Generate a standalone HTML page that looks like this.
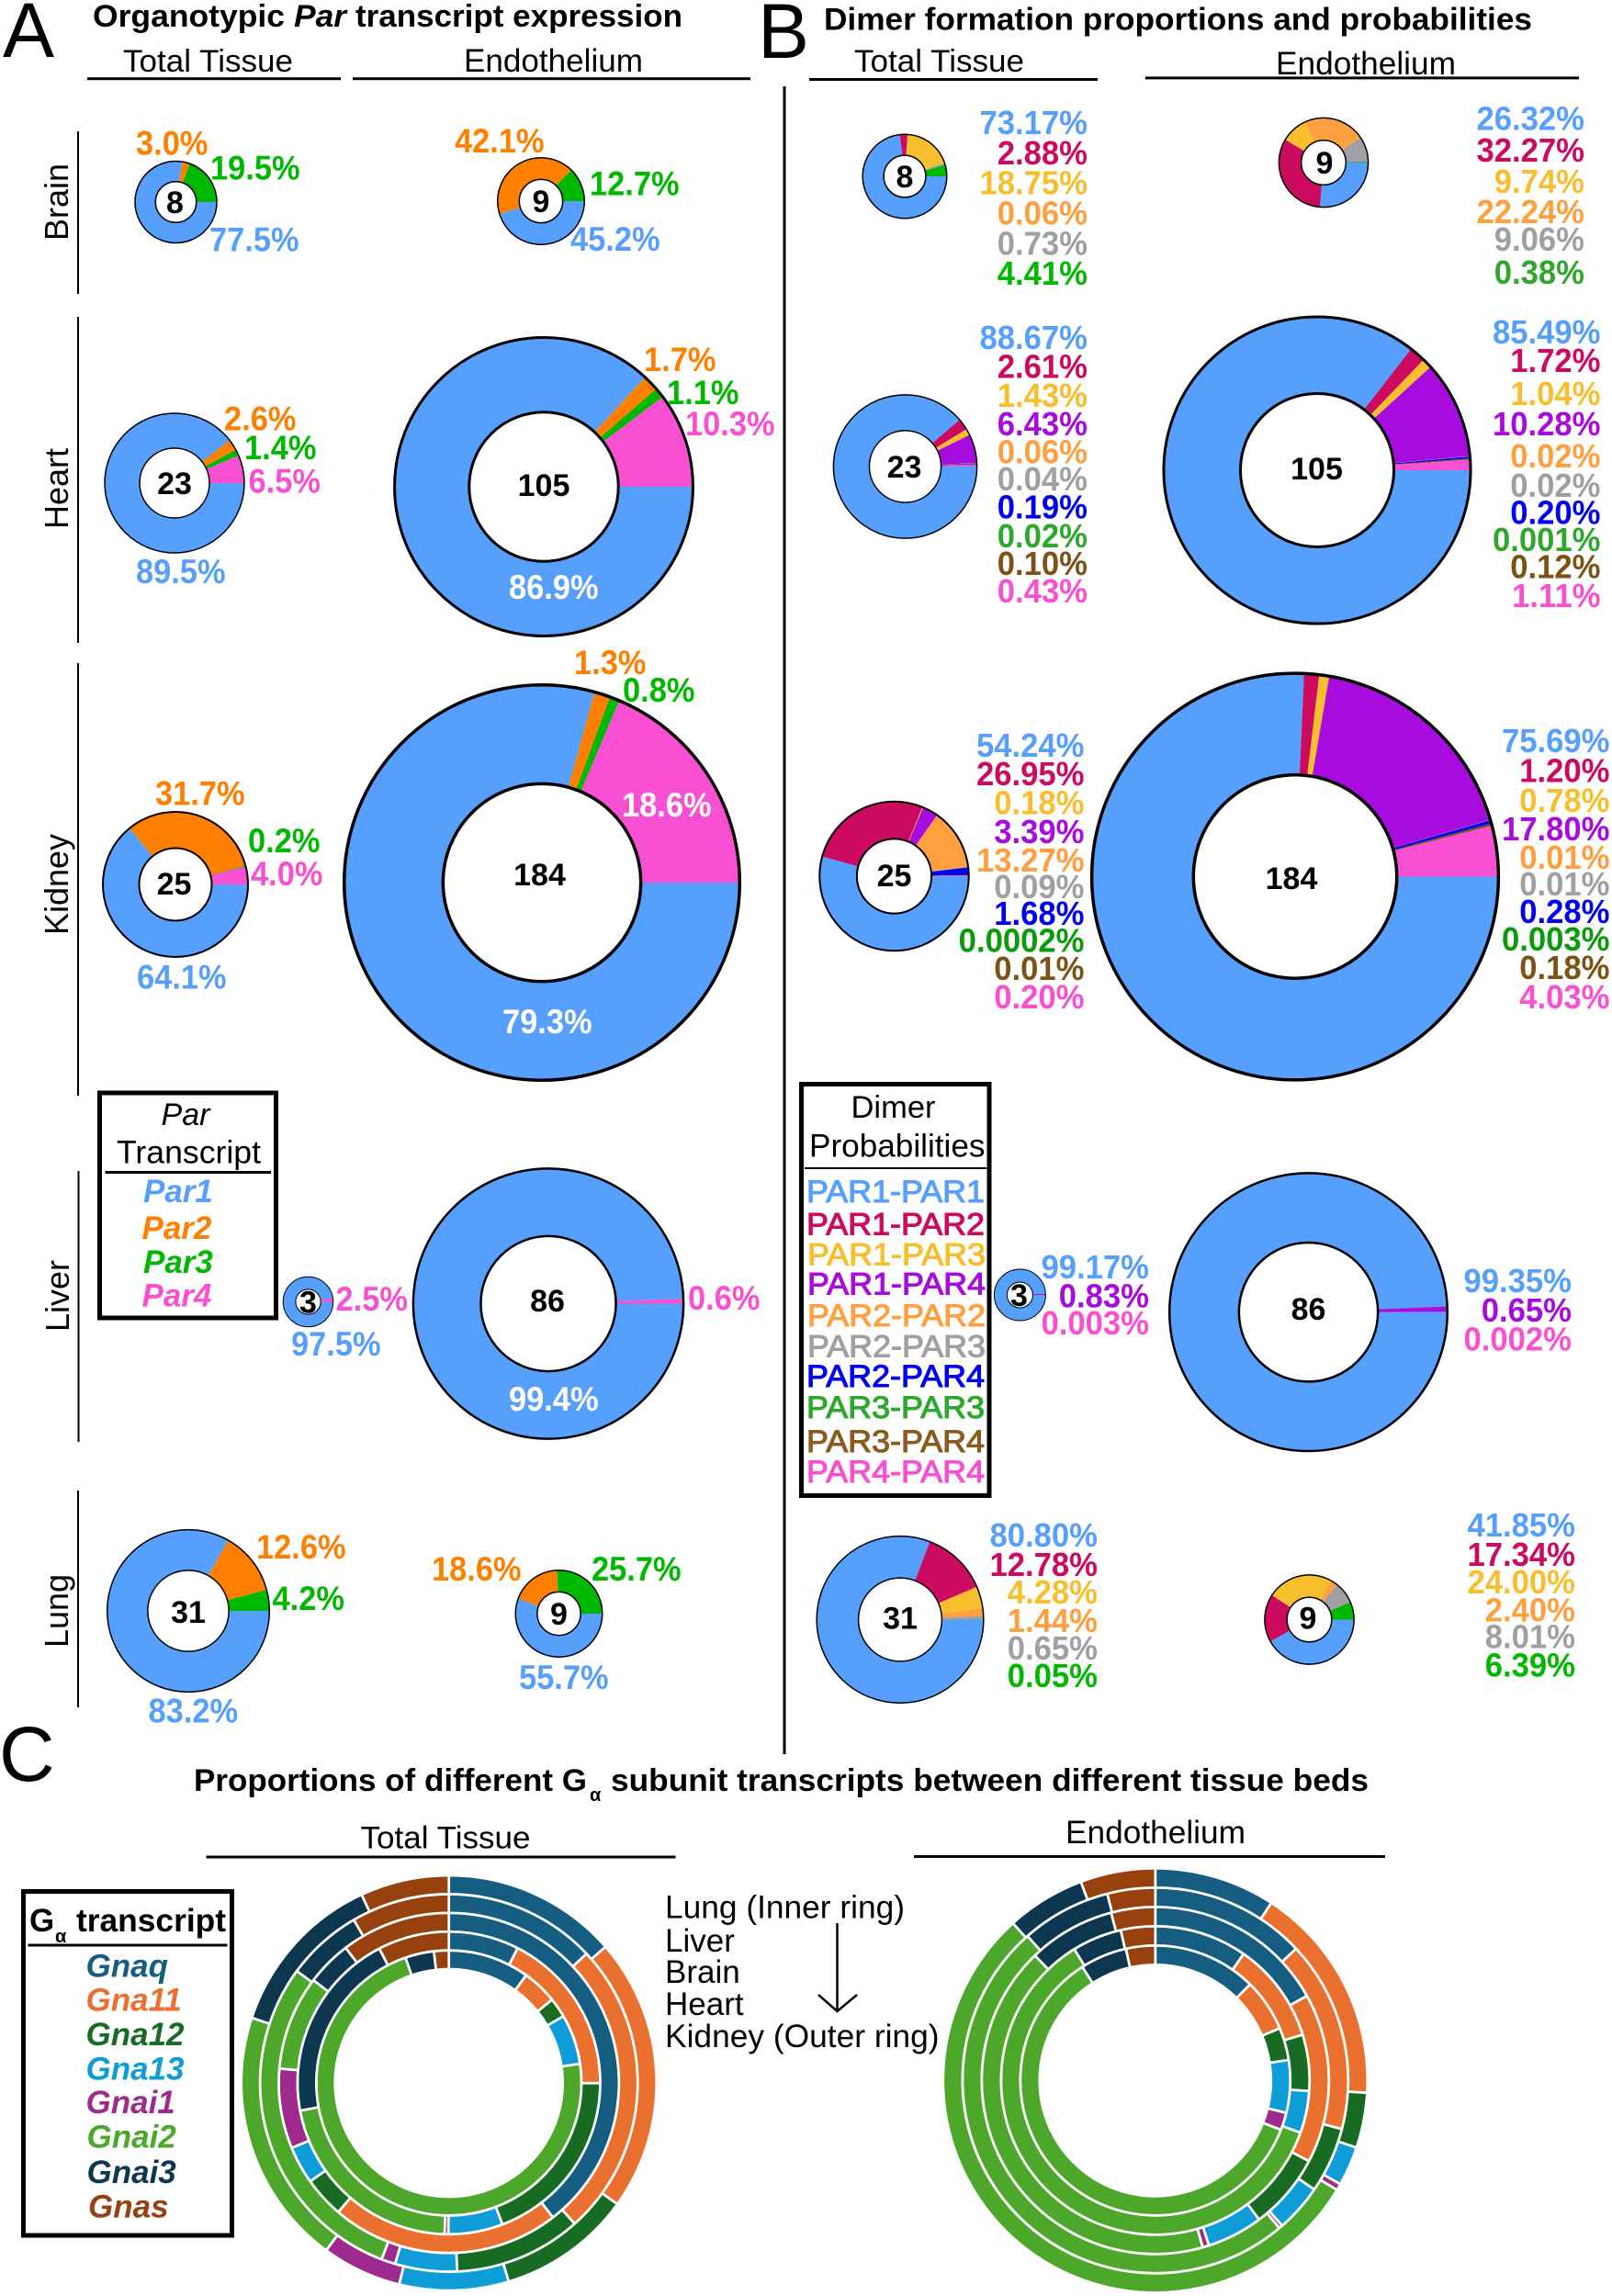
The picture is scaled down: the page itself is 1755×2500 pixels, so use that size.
<!DOCTYPE html>
<html lang="en">
<head>
<meta charset="utf-8">
<title>Par transcript expression, dimer probabilities and G-alpha subunits</title>
<style>
html,body{margin:0;padding:0;background:#fff;}
svg{display:block;}
text{font-family:"Liberation Sans",Arial,sans-serif;}
.bold{font-weight:700;}
.ital{font-style:italic;}
</style>
</head>
<body>
<svg id="figure" xmlns="http://www.w3.org/2000/svg" width="1755" height="2500" viewBox="0 0 1755 2500">
  <rect x="0" y="0" width="1755" height="2500" fill="#fff"/>

  <!-- Panel letters -->
  <text x="3" y="62" font-size="84">A</text>
  <text x="825" y="63" font-size="84">B</text>
  <text x="-1" y="1939" font-size="84">C</text>

  <!-- Panel A headers -->
  <text class="bold" x="101" y="29" font-size="34" textLength="209" lengthAdjust="spacingAndGlyphs">Organotypic</text>
  <text class="bold ital" x="320" y="29" font-size="34" textLength="57" lengthAdjust="spacingAndGlyphs">Par</text>
  <text class="bold" x="387" y="29" font-size="34" textLength="356" lengthAdjust="spacingAndGlyphs">transcript expression</text>
  <text x="134" y="78" font-size="34" textLength="185" lengthAdjust="spacingAndGlyphs">Total Tissue</text>
  <text x="505" y="78" font-size="34.8" textLength="195" lengthAdjust="spacingAndGlyphs">Endothelium</text>
  <rect x="95" y="84.2" width="276" height="3" fill="#000"/>
  <rect x="384" y="84.2" width="433" height="3" fill="#000"/>

  <!-- Panel B headers -->
  <text class="bold" x="897" y="32.5" font-size="34" textLength="771" lengthAdjust="spacingAndGlyphs">Dimer formation proportions and probabilities</text>
  <text x="930" y="78" font-size="34" textLength="185" lengthAdjust="spacingAndGlyphs">Total Tissue</text>
  <text x="1389" y="81" font-size="34.8" textLength="196" lengthAdjust="spacingAndGlyphs">Endothelium</text>
  <rect x="881" y="85" width="314" height="3" fill="#000"/>
  <rect x="1247" y="83.4" width="472" height="3" fill="#000"/>
  <rect x="852.5" y="94" width="3" height="1816" fill="#000"/>

  <!-- Row labels -->
  <g font-size="36" text-anchor="middle">
    <text transform="translate(74,220) rotate(-90)">Brain</text>
    <text transform="translate(74,532) rotate(-90)">Heart</text>
    <text transform="translate(74,963) rotate(-90)">Kidney</text>
    <text transform="translate(75,1411) rotate(-90)">Liver</text>
    <text transform="translate(74,1754) rotate(-90)">Lung</text>
  </g>
  <rect x="84" y="143" width="2" height="177" fill="#000"/>
  <rect x="84" y="345" width="2" height="355" fill="#000"/>
  <rect x="84" y="722" width="2" height="471" fill="#000"/>
  <rect x="84.5" y="1275" width="2" height="295" fill="#000"/>
  <rect x="84" y="1623" width="2" height="236" fill="#000"/>

  <!-- Legend A -->
  <g>
    <rect x="108.5" y="1190" width="192" height="245" fill="#fff" stroke="#000" stroke-width="5"/>
    <text class="ital" x="202" y="1225" font-size="34" text-anchor="middle">Par</text>
    <text x="127" y="1266.4" font-size="35" textLength="157" lengthAdjust="spacingAndGlyphs">Transcript</text>
    <rect x="114.5" y="1275" width="180.5" height="3" fill="#000"/>
    <g class="bold ital" font-size="35">
      <text x="156" y="1309" fill="#569FFD">Par1</text>
      <text x="154.5" y="1349" fill="#FF8000">Par2</text>
      <text x="156" y="1386" fill="#00B800">Par3</text>
      <text x="154.5" y="1422.5" fill="#F94FD3">Par4</text>
    </g>
  </g>

  <!-- Legend B -->
  <g>
    <rect x="872.5" y="1180.5" width="204.5" height="448" fill="#fff" stroke="#000" stroke-width="5"/>
    <text x="972.5" y="1217" font-size="34.5" text-anchor="middle">Dimer</text>
    <text x="881" y="1259.5" font-size="35" textLength="191.5" lengthAdjust="spacingAndGlyphs">Probabilities</text>
    <rect x="876" y="1271" width="198" height="2" fill="#000"/>
    <g font-size="34.4" stroke-width="1.1">
      <text x="878" y="1309" textLength="194" lengthAdjust="spacingAndGlyphs" fill="#569FFD" stroke="#569FFD">PAR1-PAR1</text>
      <text x="878" y="1344.5" textLength="194" lengthAdjust="spacingAndGlyphs" fill="#CC0A60" stroke="#CC0A60">PAR1-PAR2</text>
      <text x="879" y="1377.5" textLength="194" lengthAdjust="spacingAndGlyphs" fill="#F7BE2E" stroke="#F7BE2E">PAR1-PAR3</text>
      <text x="879" y="1409.7" textLength="194" lengthAdjust="spacingAndGlyphs" fill="#A80BDD" stroke="#A80BDD">PAR1-PAR4</text>
      <text x="879" y="1444" textLength="194" lengthAdjust="spacingAndGlyphs" fill="#FF9F3F" stroke="#FF9F3F">PAR2-PAR2</text>
      <text x="879" y="1477.6" textLength="194" lengthAdjust="spacingAndGlyphs" fill="#A0A0A4" stroke="#A0A0A4">PAR2-PAR3</text>
      <text x="878" y="1510" textLength="194" lengthAdjust="spacingAndGlyphs" fill="#0000F0" stroke="#0000F0">PAR2-PAR4</text>
      <text x="878" y="1544" textLength="194" lengthAdjust="spacingAndGlyphs" fill="#2DA82D" stroke="#2DA82D">PAR3-PAR3</text>
      <text x="878" y="1581" textLength="194" lengthAdjust="spacingAndGlyphs" fill="#8B5A1E" stroke="#8B5A1E">PAR3-PAR4</text>
      <text x="878" y="1614" textLength="194" lengthAdjust="spacingAndGlyphs" fill="#F94FD3" stroke="#F94FD3">PAR4-PAR4</text>
    </g>
  </g>

  <!-- Panel C headers -->
  <text class="bold" x="211" y="1950" font-size="34" textLength="428" lengthAdjust="spacingAndGlyphs">Proportions of different G</text>
  <text class="bold" x="642" y="1961" font-size="20">α</text>
  <text class="bold" x="665" y="1950" font-size="34" textLength="825" lengthAdjust="spacingAndGlyphs">subunit transcripts between different tissue beds</text>
  <text x="392.5" y="2012.4" font-size="34" textLength="185" lengthAdjust="spacingAndGlyphs">Total Tissue</text>
  <rect x="224.5" y="2020.5" width="511" height="3" fill="#000"/>
  <text x="1160" y="2007" font-size="34.8" textLength="196" lengthAdjust="spacingAndGlyphs">Endothelium</text>
  <rect x="995" y="2020" width="513" height="3" fill="#000"/>

  <!-- Legend C -->
  <g>
    <rect x="25.5" y="2059.5" width="227" height="374.5" fill="#fff" stroke="#000" stroke-width="5"/>
    <text class="bold" x="32" y="2103" font-size="35">G</text>
    <text class="bold" x="60" y="2115" font-size="20">α</text>
    <text class="bold" x="83" y="2103" font-size="35" textLength="163" lengthAdjust="spacingAndGlyphs">transcript</text>
    <rect x="30.5" y="2116.5" width="217" height="3" fill="#000"/>
    <g class="bold ital" font-size="35">
      <text x="93.5" y="2152.7" fill="#155E82">Gnaq</text>
      <text x="93.5" y="2189.5" fill="#EA7030">Gna11</text>
      <text x="93.5" y="2227" fill="#176B22">Gna12</text>
      <text x="93.5" y="2264.6" fill="#0F9DD7">Gna13</text>
      <text x="93.5" y="2301" fill="#9E2A8E">Gnai1</text>
      <text x="94.5" y="2338.5" fill="#4DA72B">Gnai2</text>
      <text x="94.5" y="2377" fill="#0D374F">Gnai3</text>
      <text x="96" y="2414.4" fill="#97410F">Gnas</text>
    </g>
  </g>

  <!-- Ring key -->
  <g font-size="35">
    <text x="724" y="2088.5" textLength="261" lengthAdjust="spacingAndGlyphs">Lung (Inner ring)</text>
    <text x="724" y="2124.8">Liver</text>
    <text x="724" y="2159">Brain</text>
    <text x="724" y="2194">Heart</text>
    <text x="724" y="2229" textLength="298.5" lengthAdjust="spacingAndGlyphs">Kidney (Outer ring)</text>
    <path d="M911.5 2094V2190M891 2172L911.5 2190L933 2172" fill="none" stroke="#000" stroke-width="2.5"/>
  </g>

  <g id="donuts-a"></g>
  <g id="donuts-b"></g>
  <g id="rings-c"></g>
</svg>

<script>
/* ---------- Panel A data: Par1, Par2, Par3, Par4 (percent) ---------- */
const parCategories = ['Par1', 'Par2', 'Par3', 'Par4'];
const parTotalCounts = [8, 23, 25, 3, 31];      /* Brain, Heart, Kidney, Liver, Lung */
const parEndoCounts = [9, 105, 184, 86, 9];
const parBrainTotal = [77.5, 3.0, 19.5, null];
const parHeartTotal = [89.5, 2.6, 1.4, 6.5];
const parKidneyTotal = [64.1, 31.7, 0.2, 4.0];
const parLiverTotal = [97.5, null, null, 2.5];
const parLungTotal = [83.2, 12.6, 4.2, null];
const parBrainEndo = [45.2, 42.1, 12.7, null];
const parHeartEndo = [86.9, 1.7, 1.1, 10.3];
const parKidneyEndo = [79.3, 1.3, 0.8, 18.6];
const parLiverEndo = [99.4, null, null, 0.6];
const parLungEndo = [55.7, 18.6, 25.7, null];

/* ---------- Panel B data: dimer probabilities (percent) ---------- */
const dimerCategories = ['PAR1-PAR1', 'PAR1-PAR2', 'PAR1-PAR3', 'PAR1-PAR4', 'PAR2-PAR2', 'PAR2-PAR3', 'PAR2-PAR4', 'PAR3-PAR3', 'PAR3-PAR4', 'PAR4-PAR4'];
const dimerBrainTotal = [73.17, 2.88, 18.75, null, 0.06, 0.73, null, 4.41, null, null];
const dimerHeartTotal = [88.67, 2.61, 1.43, 6.43, 0.06, 0.04, 0.19, 0.02, 0.10, 0.43];
const dimerKidneyTotal = [54.24, 26.95, 0.18, 3.39, 13.27, 0.09, 1.68, 0.0002, 0.01, 0.20];
const dimerLiverTotal = [99.17, null, null, 0.83, null, null, null, null, null, 0.003];
const dimerLungTotal = [80.80, 12.78, 4.28, null, 1.44, 0.65, null, 0.05, null, null];
const dimerBrainEndo = [26.32, 32.27, 9.74, null, 22.24, 9.06, null, 0.38, null, null];
const dimerHeartEndo = [85.49, 1.72, 1.04, 10.28, 0.02, 0.02, 0.20, 0.001, 0.12, 1.11];
const dimerKidneyEndo = [75.69, 1.20, 0.78, 17.80, 0.01, 0.01, 0.28, 0.003, 0.18, 4.03];
const dimerLiverEndo = [99.35, null, null, 0.65, null, null, null, null, null, 0.002];
const dimerLungEndo = [41.85, 17.34, 24.00, null, 2.40, 8.01, null, 6.39, null, null];

/* ---------- Panel C data: Gnaq, Gna11, Gna12, Gna13, Gnai1, Gnai2, Gnai3, Gnas ---------- */
const gAlphaCategories = ['Gnaq', 'Gna11', 'Gna12', 'Gna13', 'Gnai1', 'Gnai2', 'Gnai3', 'Gnas'];
const ringTissues = ['lung', 'liver', 'brain', 'heart', 'kidney'];
const gTotalLung = [9.9, 4.3, 2.4, 6.1, 0, 72.0, 3.5, 1.8];
const gTotalLiver = [7.5, 17.5, 19.2, 5.8, 0.4, 21.6, 20.3, 7.6];
const gTotalBrain = [39.6, 21.8, 3.9, 3.6, 7.6, 9.0, 4.3, 10.4];
const gTotalHeart = [13.0, 25.4, 10.9, 5.3, 1.2, 29.3, 6.5, 8.4];
const gTotalKidney = [13.6, 21.3, 10.4, 8.5, 6.2, 20.0, 13.0, 6.9];
const gEndoLung = [12.4, 6.3, 3.9, 6.3, 2.1, 60.0, 5.6, 3.5];
const gEndoLiver = [9.7, 10.5, 5.9, 4.4, 0, 60.7, 5.2, 3.6];
const gEndoBrain = [16.9, 15.8, 7.1, 5.2, 0.6, 42.2, 8.1, 4.1];
const gEndoHeart = [13.0, 16.0, 5.5, 4.0, 0.3, 49.5, 7.5, 4.0];
const gEndoKidney = [9.2, 16.7, 4.2, 3.0, 0.5, 54.6, 6.0, 5.7];

/* ---------- Styles ---------- */
const parColors = ['#569FFD', '#FF8000', '#00B800', '#F94FD3'];
const dimerColors = ['#569FFD', '#CC0A60', '#F7BE2E', '#A80BDD', '#FF9F3F', '#A0A0A4', '#0000F0', '#2DA82D', '#7D5216', '#F94FD3'];
const gAlphaColors = ['#155E82', '#EA7030', '#176B22', '#0F9DD7', '#9E2A8E', '#4DA72B', '#0D374F', '#97410F'];

const SVG_NS = 'http://www.w3.org/2000/svg';
function mk(tag, attrs, parent) {
  const node = document.createElementNS(SVG_NS, tag);
  Object.keys(attrs).forEach(function (k) { node.setAttribute(k, attrs[k]); });
  parent.appendChild(node);
  return node;
}

/* Angle axis: share of the total mapped to radians, measured clockwise. */
function angleOf(value, total) { return value / total * Math.PI * 2; }
function sum(values) { return values.reduce(function (a, v) { return a + (v || 0); }, 0); }
/* Size axis: outer radius encodes the sample count by area. */
function radiusA(count) { return 16 * Math.sqrt(count); }
function radiusB(count) { return 16.45 * Math.sqrt(count); }

function sectorPath(cx, cy, ro, ri, a0, a1) {
  const large = (a1 - a0) > Math.PI ? 1 : 0;
  const p = function (r, a) { return (cx + r * Math.cos(a)).toFixed(2) + ' ' + (cy + r * Math.sin(a)).toFixed(2); };
  return 'M' + p(ro, a0) + 'A' + ro + ' ' + ro + ' 0 ' + large + ' 1 ' + p(ro, a1) +
         'L' + p(ri, a1) + 'A' + ri + ' ' + ri + ' 0 ' + large + ' 0 ' + p(ri, a0) + 'Z';
}

function fmtPar(v) { return v.toFixed(1) + '%'; }
function fmtDimer(v) { return (v < 0.01 ? String(v) : v.toFixed(2)) + '%'; }

function drawDonut(parent, d, categories, colors, radiusFn) {
  const g = mk('g', {}, parent);
  
  
  const r = radiusFn(d.count) - d.sw / 2;
  const total = sum(d.values);
  let a = 0;
  d.values.forEach(function (v, i) {
    if (v === null || v === 0) return;
    const a1 = a + angleOf(v, total);
    const slice = mk('path', { d: sectorPath(d.cx, d.cy, r, r * 0.5, a, a1), fill: colors[i] }, g);
    
    
    a = a1;
  });
  const rim = mk('circle', { cx: d.cx, cy: d.cy, r: r, fill: 'none', stroke: '#000', 'stroke-width': d.sw }, g);
  
  
  const hole = mk('circle', { cx: d.cx, cy: d.cy, r: r * 0.5, fill: '#fff', stroke: '#000', 'stroke-width': d.sw }, g);
  
  
  const n = mk('text', { x: d.cx + (d.tdx || 0), y: d.cy + d.tdy, 'font-size': 34, 'font-weight': 700, 'text-anchor': 'middle', fill: '#000' }, g);
  n.textContent = String(d.count);
  
  
  return g;
}

/* ---------- Panel A layout ---------- */
const donutsA = [
  { name: 'a-brain-total', values: parBrainTotal, count: parTotalCounts[0], cx: 191.5, cy: 220, sw: 1.5, tdy: 12, tdx: -1,
    at: [[228, 273.6], [148, 168.7], [229, 195.5], null] },
  { name: 'a-brain-endo', values: parBrainEndo, count: parEndoCounts[0], cx: 589, cy: 219, sw: 1.5, tdy: 12,
    at: [[621, 273], [495, 166], [642, 212.5], null] },
  { name: 'a-heart-total', values: parHeartTotal, count: parTotalCounts[1], cx: 190, cy: 526, sw: 1.5, tdy: 12,
    at: [[148, 635], [244, 468.7], [266, 500], [270.5, 536.6]] },
  { name: 'a-heart-endo', values: parHeartEndo, count: parEndoCounts[1], cx: 592, cy: 530, sw: 3, tdy: 10,
    at: [[554, 652], [701, 404], [726, 440], [746, 474]], white: [0] },
  { name: 'a-kidney-total', values: parKidneyTotal, count: parTotalCounts[2], cx: 191, cy: 963, sw: 2, tdy: 11, tdx: -1.5,
    at: [[149, 1076.7], [169, 876.7], [270, 928], [273, 964]] },
  { name: 'a-kidney-endo', values: parKidneyEndo, count: parEndoCounts[2], cx: 590, cy: 961, sw: 3.5, tdy: 3, tdx: -2.5,
    at: [[547, 1125], [625, 734], [678, 764], [677, 889]], white: [0, 3] },
  { name: 'a-liver-total', values: parLiverTotal, count: parTotalCounts[3], cx: 335.5, cy: 1417.5, sw: 1, tdy: 12,
    at: [[317, 1476], null, null, [365.5, 1427]] },
  { name: 'a-liver-endo', values: parLiverEndo, count: parEndoCounts[3], cx: 597, cy: 1419.5, sw: 2.5, tdy: 8.5, tdx: -1,
    at: [[554, 1536], null, null, [749, 1426]], white: [0] },
  { name: 'a-lung-total', values: parLungTotal, count: parTotalCounts[4], cx: 205, cy: 1754, sw: 1.5, tdy: 13,
    at: [[161.5, 1875.7], [279, 1697], [296.5, 1753], null] },
  { name: 'a-lung-endo', values: parLungEndo, count: parEndoCounts[4], cx: 608.5, cy: 1757, sw: 1.5, tdy: 12,
    at: [[565, 1839], [470, 1721], [644, 1721], null] }
];

const groupA = document.getElementById('donuts-a');
donutsA.forEach(function (d) {
  const g = drawDonut(groupA, d, parCategories, parColors, radiusA);
  d.values.forEach(function (v, i) {
    if (v === null || !d.at[i]) return;
    const isWhite = d.white && d.white.indexOf(i) >= 0;
    const t = mk('text', { transform: 'translate(' + d.at[i][0] + ',' + d.at[i][1] + ') scale(0.93,1)', 'font-size': 37, 'font-weight': 700, fill: isWhite ? '#fff' : parColors[i] }, g);
    t.textContent = fmtPar(v);
    
    
  });
});

/* ---------- Panel B layout ---------- */
const donutsB = [
  { name: 'b-brain-total', values: dimerBrainTotal, count: parTotalCounts[0], cx: 985, cy: 192, sw: 1.5, tdy: 12, right: 1184,
    ys: [146, 179, 211.7, 244.6, 277.7, 310], green: '#00B800' },
  { name: 'b-brain-endo', values: dimerBrainEndo, count: parEndoCounts[0], cx: 1441, cy: 177, sw: 1.5, tdy: 12, tdx: 1, right: 1725,
    ys: [141.5, 176, 210, 243, 273, 309] },
  { name: 'b-heart-total', values: dimerHeartTotal, count: parTotalCounts[1], cx: 985.5, cy: 508, sw: 1.5, tdy: 12, tdx: -1, right: 1184,
    ys: [380, 411.6, 443, 474, 504.5, 534, 564.7, 596, 626, 656] },
  { name: 'b-heart-endo', values: dimerHeartEndo, count: parEndoCounts[1], cx: 1434, cy: 512, sw: 3, tdy: 10, tdx: -0.5, right: 1742.5,
    ys: [374, 405, 441, 474, 509, 541, 570.5, 600, 629.5, 661] },
  { name: 'b-kidney-total', values: dimerKidneyTotal, count: parTotalCounts[2], cx: 973.5, cy: 954, sw: 2, tdy: 11, right: 1180.5,
    ys: [824, 855, 886.7, 918, 949, 978, 1007, 1036.7, 1067, 1098], green: '#0A9A0A' },
  { name: 'b-kidney-endo', values: dimerKidneyEndo, count: parEndoCounts[2], cx: 1410, cy: 954.5, sw: 3.5, tdy: 13.5, tdx: -4, right: 1752.5,
    ys: [819, 851.7, 884, 915, 946, 975, 1005, 1035, 1066, 1098], green: '#0A9A0A' },
  { name: 'b-liver-total', values: dimerLiverTotal, count: parTotalCounts[3], cx: 1110.4, cy: 1410, sw: 1, tdy: 12, tdx: -1, right: 1251,
    ys: [1391.8, 1423.4, 1453] },
  { name: 'b-liver-endo', values: dimerLiverEndo, count: parEndoCounts[3], cx: 1424.5, cy: 1428.7, sw: 2.5, tdy: 8.5, right: 1711,
    ys: [1407, 1439, 1470.7] },
  { name: 'b-lung-total', values: dimerLungTotal, count: parTotalCounts[4], cx: 980, cy: 1763.5, sw: 1.5, tdy: 10, right: 1195,
    ys: [1684, 1716, 1746, 1777, 1807, 1837], green: '#00B800' },
  { name: 'b-lung-endo', values: dimerLungEndo, count: parEndoCounts[4], cx: 1425.5, cy: 1763.5, sw: 1.5, tdy: 10, tdx: -1.5, right: 1715,
    ys: [1673, 1705, 1735, 1765.5, 1794.4, 1825.6], green: '#00B800' }
];

const groupB = document.getElementById('donuts-b');
donutsB.forEach(function (d) {
  const colors = dimerColors.slice();
  if (d.green) colors[7] = d.green;
  const g = drawDonut(groupB, d, dimerCategories, colors, radiusB);
  let row = 0;
  d.values.forEach(function (v, i) {
    if (v === null) return;
    const t = mk('text', { transform: 'translate(' + d.right + ',' + d.ys[row] + ') scale(0.95,1)', 'font-size': 36.5, 'font-weight': 700, 'text-anchor': 'end', fill: colors[i] }, g);
    t.textContent = fmtDimer(v);
    
    
    row++;
  });
});

/* ---------- Panel C layout ---------- */
const ringCharts = [
  { name: 'c-total-tissue', cx: 488.7, cy: 2268, outer: 226, step: 20.4, rings: [gTotalLung, gTotalLiver, gTotalBrain, gTotalHeart, gTotalKidney] },
  { name: 'c-endothelium', cx: 1257.8, cy: 2265.3, outer: 231, step: 21, rings: [gEndoLung, gEndoLiver, gEndoBrain, gEndoHeart, gEndoKidney] }
];

const groupC = document.getElementById('rings-c');
ringCharts.forEach(function (chart) {
  const g = mk('g', {}, groupC);
  
  
  const count = chart.rings.length;
  chart.rings.forEach(function (values, ringIndex) {
    const ro = chart.outer - (count - 1 - ringIndex) * chart.step;
    const ri = ro - chart.step;
    const total = sum(values);
    let a = -Math.PI / 2;
    values.forEach(function (v, i) {
      if (!v) return;
      const a1 = a + angleOf(v, total);
      const seg = mk('path', { d: sectorPath(chart.cx, chart.cy, ro, ri, a, a1), fill: gAlphaColors[i], stroke: '#fff', 'stroke-width': 2.7 }, g);
      
      
      a = a1;
    });
  });
});
</script>
</body>
</html>
